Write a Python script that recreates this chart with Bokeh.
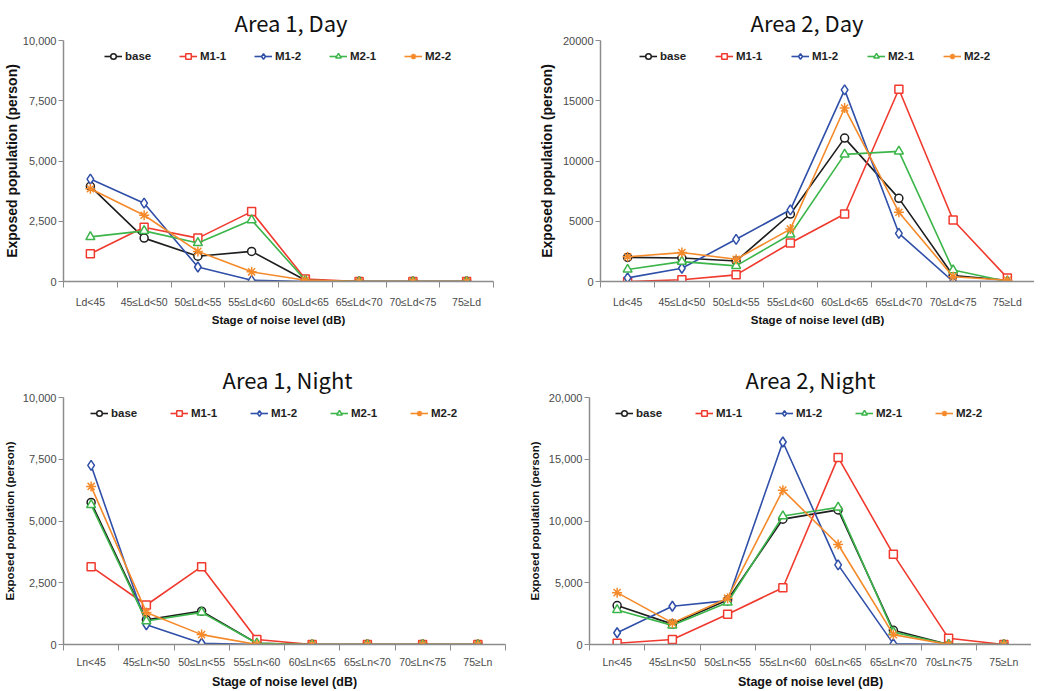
from bokeh.plotting import figure
from bokeh.layouts import column, row
from bokeh.models import FixedTicker, NumeralTickFormatter, Legend, LegendItem, Range1d
from bokeh.embed import file_html
from bokeh.resources import INLINE

# ---------------- data ----------------
day_categories = ["Ld<45", "45≤Ld<50", "50≤Ld<55", "55≤Ld<60",
                  "60≤Ld<65", "65≤Ld<70", "70≤Ld<75", "75≥Ld"]
night_categories = ["Ln<45", "45≤Ln<50", "50≤Ln<55", "55≤Ln<60",
                    "60≤Ln<65", "65≤Ln<70", "70≤Ln<75", "75≥Ln"]
series_names = ["base", "M1-1", "M1-2", "M2-1", "M2-2"]

area1_day_base = [3950, 1800, 1050, 1250, 50, 0, 0, 0]
area1_day_m11 = [1150, 2250, 1800, 2900, 100, 0, 0, 0]
area1_day_m12 = [4250, 3250, 600, 50, 0, 0, 0, 0]
area1_day_m21 = [1850, 2100, 1600, 2550, 50, 0, 0, 0]
area1_day_m22 = [3850, 2750, 1250, 400, 50, 0, 0, 0]

area2_day_base = [2000, 1950, 1700, 5600, 11900, 6900, 500, 100]
area2_day_m11 = [0, 150, 550, 3200, 5600, 15950, 5100, 300]
area2_day_m12 = [300, 1100, 3500, 5950, 15900, 4000, 0, 0]
area2_day_m21 = [1000, 1650, 1300, 3900, 10550, 10800, 950, 0]
area2_day_m22 = [2050, 2400, 1850, 4350, 14400, 5750, 400, 100]

area1_night_base = [5750, 1000, 1350, 50, 0, 0, 0, 0]
area1_night_m11 = [3150, 1600, 3150, 200, 0, 0, 0, 0]
area1_night_m12 = [7250, 800, 50, 0, 0, 0, 0, 0]
area1_night_m21 = [5650, 950, 1300, 50, 0, 0, 0, 0]
area1_night_m22 = [6400, 1300, 400, 0, 0, 0, 0, 0]

area2_night_base = [3150, 1650, 3600, 10150, 10900, 1150, 0, 0]
area2_night_m11 = [100, 400, 2450, 4600, 15150, 7300, 500, 0]
area2_night_m12 = [950, 3100, 3550, 16400, 6450, 50, 0, 0]
area2_night_m21 = [2800, 1550, 3400, 10400, 11100, 1000, 0, 0]
area2_night_m22 = [4200, 1750, 3750, 12500, 8100, 800, 0, 0]

y_ticks_10k = [0, 2500, 5000, 7500, 10000]
y_ticks_20k = [0, 5000, 10000, 15000, 20000]

# ---------------- styles ----------------
COLORS = ["#1e1e1e", "#f03a2e", "#2f4fa8", "#3cb54a", "#f58a2a"]
MARKERS = ["circle", "square", "diamond", "triangle", "asterisk"]
MSIZES = [8, 8, 10, 9, 10]
AXIS_COL = "#8c8c8c"
TICK_TXT = "#4a4a4a"
FONT = "Liberation Sans"


def make_panel(title, title_off, cats, series, yticks, fmt, fw, fh, bl, br, bt, bb,
               legend_x, spacing, ylabel_size, xlabel_size, xstand, xlab_stand, ystand_lab):
    p = figure(frame_width=fw, frame_height=fh, output_backend="svg", toolbar_location=None,
               min_border_left=bl, min_border_right=br, min_border_top=bt,
               min_border_bottom=bb, x_range=Range1d(0, len(cats)),
               y_range=Range1d(yticks[0], yticks[-1]))
    p.outline_line_color = None
    p.grid.visible = False
    p.background_fill_color = "white"

    p.title.text = title
    p.title.align = "left"
    p.title.offset = title_off
    p.title.text_font = "Noto Sans CJK KR"
    p.title.text_font_style = "normal"
    p.title.text_font_size = "22px"
    p.title.text_color = "#111111"
    p.title.standoff = 6

    xs = [i + 0.5 for i in range(len(cats))]
    items = []
    for name, vals, col, mk, ms in zip(series_names, series, COLORS, MARKERS, MSIZES):
        lr = p.line(xs, vals, line_color=col, line_width=1.6)
        sr = p.scatter(xs, vals, marker=mk, size=ms, line_color=col, line_width=1.5,
                       fill_color="white")
        items.append(LegendItem(label=name, renderers=[lr, sr]))

    legend = Legend(items=items, orientation="horizontal",
                    location=(legend_x, fh - 5 - 18),
                    border_line_color=None, background_fill_alpha=0,
                    glyph_width=18, glyph_height=14, label_height=14,
                    label_width=34, spacing=spacing, padding=2, margin=0,
                    label_standoff=3, label_text_font=FONT,
                    label_text_font_style="bold", label_text_font_size="11.5px",
                    label_text_color="#222222")
    p.add_layout(legend)

    # x axis
    xa = p.xaxis[0]
    xa.ticker = FixedTicker(ticks=xs, minor_ticks=list(range(len(cats) + 1)))
    xa.major_label_overrides = {x: c for x, c in zip(xs, cats)}
    xa.major_tick_line_color = None
    xa.major_tick_out = 0
    xa.major_tick_in = 0
    xa.minor_tick_line_color = AXIS_COL
    xa.minor_tick_out = 6
    xa.minor_tick_in = 0
    xa.axis_line_color = AXIS_COL
    xa.axis_line_width = 1.5
    xa.major_label_text_font = FONT
    xa.major_label_text_font_size = "10.5px"
    xa.major_label_text_color = TICK_TXT
    xa.major_label_standoff = xstand
    xa.axis_label = "Stage of noise level (dB)"
    xa.axis_label_text_font = FONT
    xa.axis_label_text_font_style = "bold"
    xa.axis_label_text_font_size = xlabel_size
    xa.axis_label_text_color = "#111111"
    xa.axis_label_standoff = xlab_stand

    # y axis
    ya = p.yaxis[0]
    ya.ticker = FixedTicker(ticks=yticks)
    ya.formatter = NumeralTickFormatter(format=fmt)
    ya.axis_line_color = AXIS_COL
    ya.axis_line_width = 1.5
    ya.major_tick_line_color = AXIS_COL
    ya.major_tick_out = 5
    ya.major_tick_in = 0
    ya.minor_tick_line_color = None
    ya.major_label_text_font = FONT
    ya.major_label_text_font_size = "11px"
    ya.major_label_text_color = TICK_TXT
    ya.major_label_standoff = 2
    ya.axis_label = "Exposed population (person)"
    ya.axis_label_text_font = FONT
    ya.axis_label_text_font_style = "bold"
    ya.axis_label_text_font_size = ylabel_size
    ya.axis_label_text_color = "#111111"
    ya.axis_label_standoff = ystand_lab
    return p


p1 = make_panel("Area  1,  Day", 171, day_categories,
                [area1_day_base, area1_day_m11, area1_day_m12, area1_day_m21, area1_day_m22],
                y_ticks_10k, "0,0", 430, 241, 54, 23, 33, 66, 41, 20, "14px", "11.5px", 8, 3, 0)
p2 = make_panel("Area  2,  Day", 150, day_categories,
                [area2_day_base, area2_day_m11, area2_day_m12, area2_day_m21, area2_day_m22],
                y_ticks_20k, "0", 434, 241, 84, 0, 33, 66, 39, 21, "14px", "11.5px", 8, 3, 5)
p3 = make_panel("Area  1,  Night", 159, night_categories,
                [area1_night_base, area1_night_m11, area1_night_m12, area1_night_m21, area1_night_m22],
                y_ticks_10k, "0,0", 442, 247, 60, 8, 50, 38, 27, 25, "11.5px", "12.5px", 5, 4, 4)
p4 = make_panel("Area  2,  Night", 156, night_categories,
                [area2_night_base, area2_night_m11, area2_night_m12, area2_night_m21, area2_night_m22],
                y_ticks_20k, "0,0", 442, 247, 76, 0, 50, 38, 26, 25, "11.5px", "12.5px", 5, 4, 5)

layout = column(row(p1, p2), row(p3, p4))
open("out.html", "w").write(file_html(layout, INLINE))
